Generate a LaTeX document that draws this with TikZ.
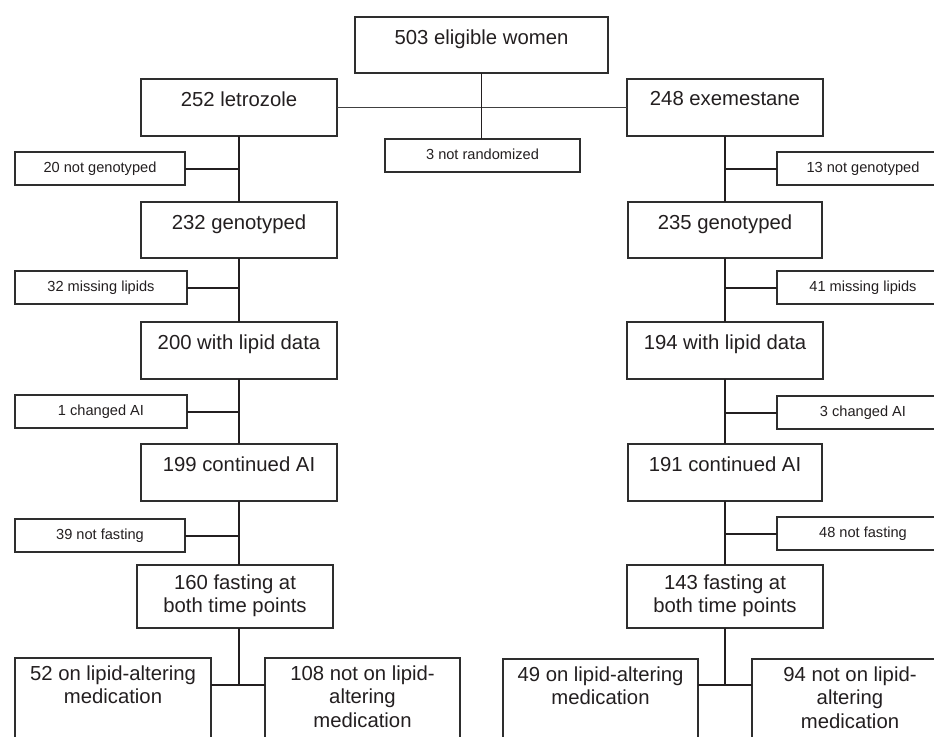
\documentclass[tikz,border=0pt]{standalone}
\usepackage{fontspec}
\setmainfont{Liberation Sans}
\definecolor{ink}{HTML}{231F20}
\definecolor{edge}{HTML}{2E2E2E}
\tikzset{
  mainbox/.style={draw=edge, line width=1.2pt, rectangle, inner sep=0pt, outer sep=0pt},
  maintext/.style={inner sep=0pt, text=ink, align=center, font=\fontsize{20.3}{23.5}\selectfont},
  sidebox/.style={draw=edge, line width=1.2pt, rectangle, inner sep=0pt, outer sep=0pt,
    text=ink, font=\fontsize{14.6}{17}\selectfont, text height=10.6pt, text depth=3.1pt},
  conn/.style={draw=ink, line width=1.8pt},
  sideconn/.style={draw=ink, line width=2pt},
  randline/.style={draw=black!75, line width=1.1pt}
}
% name, x1, y1, x2, y2, text offset from top, text
\newcommand{\flowbox}[7]{%
  \node[mainbox, anchor=north west, minimum width={(#4)-(#2)}, minimum height={(#5)-(#3)}] (#1) at (#2,#3) {};
  \node[maintext, anchor=north] (#1t) at ([yshift=-#6pt]#1.north) {#7};
}
\newcommand{\sidenote}[6]{%
  \node[sidebox, minimum width={(#4)-(#2)}, minimum height={(#5)-(#3)}] (#1) at ({((#2)+(#4))/2},{((#3)+(#5))/2}) {#6};
}
\begin{document}
\begin{tikzpicture}[x=1pt,y=-1pt]
\useasboundingbox (0,0) rectangle (934,736);
\clip (0,0) rectangle (934,736);
\fill[white] (0,0) rectangle (934,736);

% top
\flowbox{elig}{355}{17}{608}{73}{12.4}{503 eligible women}
\flowbox{letro}{141}{79}{337}{136}{12.4}{252 letrozole}
\flowbox{exem}{627}{79}{823}{136}{12.4}{248 exemestane}
\sidenote{notrand}{385}{139}{580}{172}{3 not randomized}

% left column
\sidenote{ngL}{15}{152}{185}{185}{20 not genotyped}
\flowbox{genL}{141}{202}{337}{258}{12.4}{232 genotyped}
\sidenote{mlL}{15}{271}{187}{304}{32 missing lipids}
\flowbox{lipL}{141}{322}{337}{379}{12.4}{200 with lipid data}
\sidenote{caL}{15}{395}{187}{428}{1 changed AI}
\flowbox{contL}{141}{444}{337}{501}{12.4}{199 continued AI}
\sidenote{nfL}{15}{519}{185}{552}{39 not fasting}
\flowbox{fastL}{137}{565}{333}{628}{9.5}{160 fasting at\\both time points}
\flowbox{medLa}{15}{658}{211}{770}{7.5}{52 on lipid-altering\\medication}
\flowbox{medLb}{265}{658}{460}{770}{7.5}{108 not on lipid-\\altering\\medication}

% right column
\sidenote{ngR}{777}{152}{949}{185}{13 not genotyped}
\flowbox{genR}{628}{202}{822}{258}{12.4}{235 genotyped}
\sidenote{mlR}{777}{271}{949}{304}{41 missing lipids}
\flowbox{lipR}{627}{322}{823}{379}{12.4}{194 with lipid data}
\sidenote{caR}{777}{396}{949}{429}{3 changed AI}
\flowbox{contR}{628}{444}{822}{501}{12.4}{191 continued AI}
\sidenote{nfR}{777}{517}{949}{550}{48 not fasting}
\flowbox{fastR}{627}{565}{823}{628}{9.5}{143 fasting at\\both time points}
\flowbox{medRa}{503}{659}{698}{770}{7.5}{49 on lipid-altering\\medication}
\flowbox{medRb}{752}{659}{948}{770}{7.5}{94 not on lipid-\\altering\\medication}

\coordinate (jL) at (239,685);
\coordinate (jR) at (725,685);

% connectors top
\draw[randline] (letro.east) -- (exem.west);
\draw[conn] (elig.south) -- (elig.south |- notrand.north);

% left column connectors
\draw[conn] (letro.south) -- (letro.south |- genL.north);
\draw[conn] (genL.south) -- (genL.south |- lipL.north);
\draw[conn] (lipL.south) -- (lipL.south |- contL.north);
\draw[conn] (contL.south) -- (contL.south |- fastL.north);
\draw[conn] (jL |- fastL.south) -- (jL);
\draw[sideconn] (ngL.east) -- (ngL.east -| letro.south);
\draw[sideconn] (mlL.east) -- (mlL.east -| genL.south);
\draw[sideconn] (caL.east) -- (caL.east -| lipL.south);
\draw[sideconn] (nfL.east) -- (nfL.east -| contL.south);
\draw[sideconn] (jL -| medLa.east) -- (jL -| medLb.west);

% right column connectors
\draw[conn] (exem.south) -- (exem.south |- genR.north);
\draw[conn] (genR.south) -- (genR.south |- lipR.north);
\draw[conn] (lipR.south) -- (lipR.south |- contR.north);
\draw[conn] (contR.south) -- (contR.south |- fastR.north);
\draw[conn] (jR |- fastR.south) -- (jR);
\draw[sideconn] (ngR.west) -- (ngR.west -| exem.south);
\draw[sideconn] (mlR.west) -- (mlR.west -| genR.south);
\draw[sideconn] (caR.west) -- (caR.west -| lipR.south);
\draw[sideconn] (nfR.west) -- (nfR.west -| contR.south);
\draw[sideconn] (jR -| medRa.east) -- (jR -| medRb.west);
\end{tikzpicture}
\end{document}
